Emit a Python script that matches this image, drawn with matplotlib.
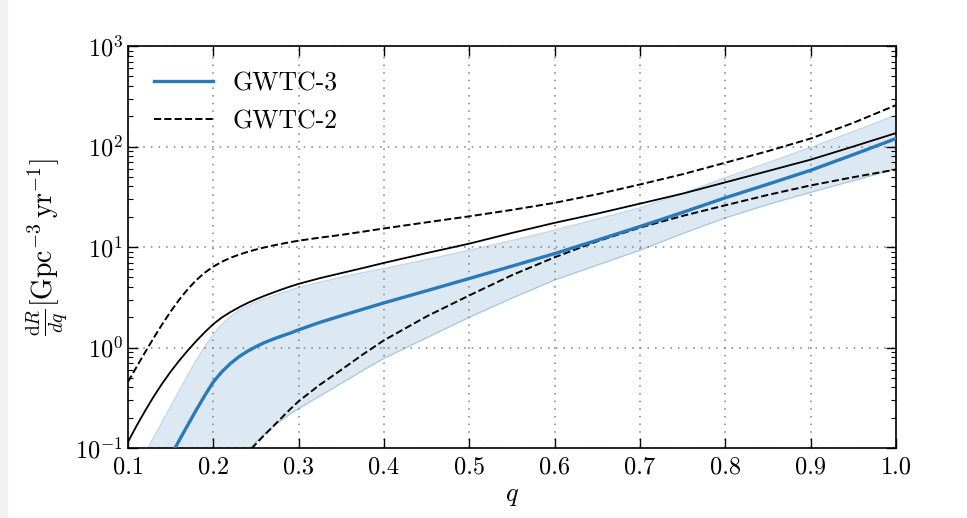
import matplotlib
matplotlib.use("Agg")
import matplotlib.pyplot as plt
import numpy as np
from matplotlib.patches import Rectangle

plt.rcParams['font.family'] = ['cmr10', 'DejaVu Serif']
plt.rcParams['mathtext.fontset'] = 'cm'
plt.rcParams['axes.formatter.use_mathtext'] = True

# mass ratio grid
q = [0.10, 0.11, 0.12, 0.13, 0.14, 0.15, 0.16, 0.17, 0.18, 0.19, 0.20,
     0.21, 0.22, 0.23, 0.24, 0.25, 0.26, 0.27, 0.28, 0.29, 0.30,
     0.325, 0.35, 0.375, 0.40, 0.45, 0.50, 0.55, 0.60,
     0.65, 0.70, 0.75, 0.80, 0.85, 0.90, 0.95, 1.00]

# GWTC-3 median and 90% band
gwtc3_med = [0.012, 0.017, 0.024, 0.035, 0.058, 0.083, 0.119, 0.169, 0.239, 0.333, 0.455,
             0.573, 0.693, 0.809, 0.918, 1.02, 1.12, 1.21, 1.30, 1.39, 1.50,
             1.78, 2.07, 2.40, 2.78, 3.67, 4.86, 6.45, 8.6,
             11.7, 16.0, 22.1, 30.9, 42.2, 58, 83, 120]
gwtc3_hi = [0.045, 0.063, 0.089, 0.127, 0.182, 0.26, 0.37, 0.53, 0.75, 1.02, 1.35,
            1.70, 2.04, 2.34, 2.60, 2.83, 3.05, 3.27, 3.49, 3.72, 3.94,
            4.47, 5.0, 5.56, 6.1, 7.5, 9.3, 11.6, 14.7,
            19.0, 24.5, 34, 49, 69, 98, 141, 205]
gwtc3_lo = [0.005, 0.007, 0.009, 0.011, 0.014, 0.017, 0.021, 0.025, 0.03, 0.036, 0.042,
            0.05, 0.058, 0.074, 0.093, 0.115, 0.138, 0.163, 0.19, 0.218, 0.247,
            0.33, 0.44, 0.59, 0.78, 1.25, 2.0, 3.1, 4.7,
            6.6, 9.3, 13.6, 19.5, 26.5, 35, 45.7, 60]

# GWTC-2 median and bounds
gwtc2_med = [0.115, 0.166, 0.234, 0.324, 0.437, 0.575, 0.74, 0.933, 1.16, 1.42, 1.71,
             1.99, 2.25, 2.51, 2.77, 3.02, 3.27, 3.52, 3.78, 4.04, 4.3,
             4.9, 5.5, 6.17, 6.95, 8.7, 10.8, 13.8, 17.4,
             21.5, 27, 34, 44, 57, 74, 100, 136]
gwtc2_hi = [0.455, 0.64, 0.895, 1.24, 1.70, 2.28, 2.99, 3.80, 4.68, 5.56, 6.38,
            7.13, 7.80, 8.39, 8.93, 9.44, 9.91, 10.35, 10.76, 11.17, 11.56,
            12.4, 13.2, 14.2, 15.3, 17.6, 20.2, 23.4, 27.5,
            33.5, 41.9, 53, 69, 90, 120, 172, 258]
gwtc2_lo = [0.005, 0.007, 0.009, 0.011, 0.014, 0.017, 0.021, 0.025, 0.03, 0.036, 0.042,
            0.05, 0.06, 0.072, 0.089, 0.11, 0.135, 0.164, 0.20, 0.243, 0.292,
            0.427, 0.60, 0.85, 1.18, 2.04, 3.3, 5.25, 7.9,
            11.4, 15.6, 20.4, 26, 33, 41, 49.5, 59]

blue = '#2a7ab9'

fig = plt.figure(figsize=(9.67, 5.18), dpi=100)
fig.patches.append(Rectangle((0, 0), 7 / 967, 1, transform=fig.transFigure,
                             color='#f1f1f1', zorder=0))
ax = fig.add_axes([128 / 967, 1 - 448 / 518, 768 / 967, 402 / 518])

ax.fill_between(q, gwtc3_lo, gwtc3_hi, color=blue, alpha=0.16, lw=0)
ax.plot(q, gwtc3_hi, color=blue, alpha=0.3, lw=0.9)
ax.plot(q, gwtc3_lo, color=blue, alpha=0.3, lw=0.9)
ax.plot(q, gwtc3_med, color=blue, lw=2.4, label='GWTC-3', zorder=4)

ax.plot(q, gwtc2_med, color='k', lw=1.3, zorder=3)
ax.plot(q, gwtc2_hi, color='k', ls='--', lw=1.4, label='GWTC-2', zorder=3)
ax.plot(q, gwtc2_lo, color='k', ls='--', lw=1.4, zorder=3)

ax.set_yscale('log')
ax.set_xlim(0.1, 1.0)
ax.set_ylim(1e-1, 1e3)
xt = np.arange(0.1, 1.01, 0.1)
ax.set_xticks(xt)
ax.set_xticklabels(['%.1f' % v for v in xt])

ax.grid(True, which='major', ls=(0, (1, 4)), color='0.5', lw=1.1)
ax.tick_params(which='both', direction='in', top=True, right=True, labelsize=17.5)
ax.tick_params(which='major', length=7, width=1)
ax.tick_params(which='minor', length=3.5, width=0.8)
ax.tick_params(axis='x', pad=6)
for s in ax.spines.values():
    s.set_linewidth(1.2)

ax.set_xlabel(r'$q$', fontsize=19)
ax.set_ylabel(r'$\frac{\mathrm{d}R}{dq}[\mathrm{Gpc}^{-3}\,\mathrm{yr}^{-1}]$', fontsize=20)

ax.legend(loc='upper left', frameon=False, fontsize=18.5, handlelength=2.3,
          handletextpad=0.75, labelspacing=0.55, borderaxespad=0.6)

fig.savefig('out.png', dpi=100)
